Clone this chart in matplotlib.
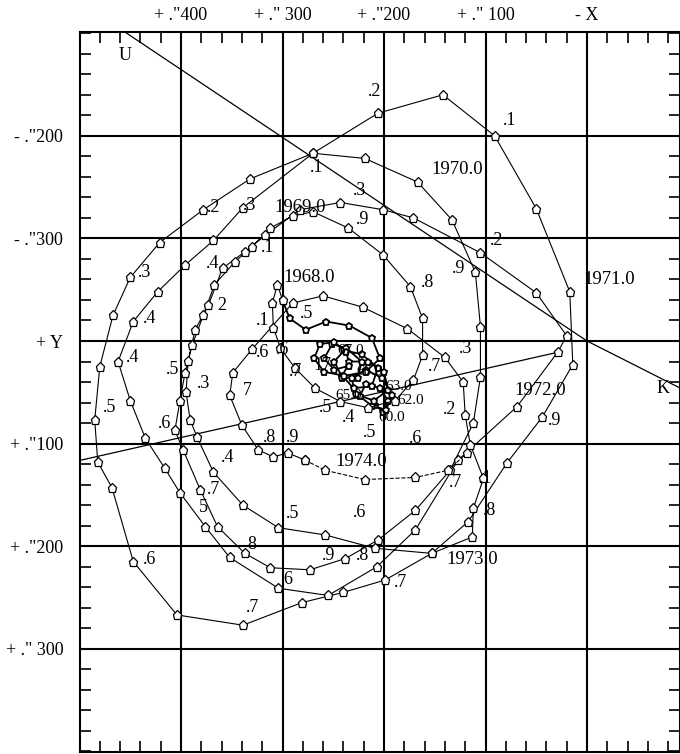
import matplotlib
matplotlib.use('Agg')
import matplotlib.pyplot as plt
from matplotlib.ticker import MultipleLocator

plt.rcParams['font.family'] = ['Liberation Serif', 'DejaVu Serif']

# pole path, units of 0."001; x grows to the left, y grows downward
# 1960 - 1967, the small tangle in the middle
x_6067 = [209, 201, 196, 204, 218, 224, 212, 198, 192, 202, 218, 232, 228, 210, 196, 200,
          216, 234, 241, 230, 212, 206, 222, 239, 249, 241, 226, 222, 237, 251, 259, 249,
          234, 237, 249, 263, 269, 259, 239, 218, 204, 212, 234, 257, 277, 293, 300]
y_6067 = [62, 69, 58, 46, 42, 54, 63, 67, 53, 36, 28, 36, 52, 58, 48, 30,
          20, 20, 34, 46, 44, 26, 13, 9, 20, 36, 36, 20, 7, 3, 17, 28,
          24, 11, 1, 3, 17, 30, 34, 30, 17, -3, -15, -19, -11, -22, -40]

x_1968 = [305, 310, 309, 302, 288, 268, 243, 216, 189, 171, 162, 162, 174, 201, 235, 270]
y_1968 = [-55, -37, -13, 7, 26, 46, 59, 65, 58, 38, 14, -22, -53, -84, -110, -126]

x_1969 = [290, 312, 330, 347, 367, 378, 389, 396, 401, 406, 398, 381, 364, 337, 312, 273,
          238, 206, 169, 135, 112, 105, 105, 110, 133]
y_1969 = [-122, -110, -92, -77, -55, -25, 4, 31, 58, 87, 106, 145, 181, 207, 221, 223,
          212, 194, 165, 126, 80, 35, -14, -67, -118]

x_1970 = [167, 219, 270, 332, 378, 421, 450, 467, 480, 485, 482, 468, 447, 404, 339, 281,
          240, 199, 153, 117, 79, 44, 14]
y_1970 = [-155, -178, -183, -158, -128, -96, -62, -25, 25, 77, 118, 143, 215, 267, 277, 255,
          245, 233, 207, 176, 119, 74, 23]

x_1971 = [17, 50, 91, 142, 206, 270, 339, 368, 396, 423, 447, 462, 450, 435, 416, 401,
          376, 352, 304, 255, 207, 169, 127]
y_1971 = [-48, -129, -200, -240, -222, -183, -130, -98, -74, -48, -19, 20, 58, 95, 124, 148,
          181, 211, 241, 248, 220, 184, 116]

x_1972 = [69, 29, 20, 50, 105, 171, 201, 243, 283, 317, 337, 359, 373, 386, 393, 395,
          391, 384, 368, 339, 304, 258, 209]
y_1972 = [64, 11, -5, -47, -86, -120, -128, -135, -128, -103, -87, -71, -35, -11, 19, 50,
          77, 94, 128, 160, 182, 189, 202]

x_1973 = [153, 113, 112, 102, 115, 120, 122, 140, 177, 221, 260, 290, 330, 349, 352, 340,
          324, 309, 295, 278]
y_1973 = [207, 191, 163, 134, 101, 72, 40, 16, -12, -33, -44, -37, 8, 31, 53, 82,
          106, 113, 109, 116]

x_1974 = [278, 258, 219, 169, 137, 118]
y_1974 = [116, 126, 135, 133, 126, 109]

# reference lines
uk_x = [455, 0, -92]
uk_y = [-301, 0, 46]
chord_x = [498, 29]
chord_y = [116, 11]

# year labels
year_text = ['1968.0', '1969.0', '1970.0', '1971.0', '1972.0', '1973.0', '1974.0']
year_x = [274, 283, 128, -22, 46, 113, 222]
year_y = [-62, -130, -167, -60, 48, 213, 117]

# tenth-of-year labels
tenth_text = ['.2', '.1', '.1', '.3', '.9', '.2', '.3', '.3', '.4', '.1', '.9', '.2', '.8',
              '.4', '2', '.1', '.5', '.4', '.5', '.3', '.6', '7', '.5', '.6', '.3', '.7',
              '.2', '.9', '.4', '.8', '.9', '.7', '5', '.6', '.1', '.7', '.8', '.5', '.6',
              '.9', '.8', '6', '8', '.6', '.7', '.7', '.5', '.4', '.5', '.6', '.7', '17']
tenth_x = [209, 76, 266, 224, 221, 368, 332, 436, 369, 315, 127, 89, 157,
           431, 360, 320, 276, 448, 408, 378, 320, 335, 470, 416, 120, 150,
           135, 32, 354, 313, 290, 368, 378, 169, 100, 130, 96, 290, 224,
           255, 221, 295, 330, 431, 330, 184, 258, 235, 214, 300, 287, 261]
tenth_y = [-243, -215, -169, -147, -118, -130, -132, -67, -76, -91, -71, -98, -57,
           -22, -35, -20, -27, 16, 28, 41, 11, 48, 65, 80, 7, 25,
           67, 77, 114, 94, 94, 145, 162, 95, 134, 138, 165, 168, 167,
           209, 209, 232, 198, 213, 260, 235, 65, 75, 89, 8, 30, 24]

# labels inside the 1960-1967 tangle
core_text = ['67.0', '66.0', '65.0', '63.0', '62.0', '60.0']
core_x = [233, 214, 235, 186, 174, 192]
core_y = [9, 30, 53, 44, 58, 75]

fig = plt.figure(figsize=(6.8, 7.54), dpi=100)
ax = fig.add_axes([80 / 680, 2 / 754, 600 / 680, 720 / 754])

mk = dict(color='black', lw=0.8, marker='p', ms=6.5, mfc='white', mec='black', mew=0.9)

ax.plot(x_6067, y_6067, color='black', lw=1.3, marker='p', ms=4.5, mfc='white',
        mec='black', mew=1.3, zorder=3)
path_x = x_6067[-1:] + x_1968 + x_1969 + x_1970 + x_1971 + x_1972 + x_1973
path_y = y_6067[-1:] + y_1968 + y_1969 + y_1970 + y_1971 + y_1972 + y_1973
ax.plot(path_x, path_y, zorder=4, **mk)
ax.plot(x_1974, y_1974, ls='--', zorder=4, **mk)

ax.plot(uk_x, uk_y, color='black', lw=0.9, zorder=2)
ax.plot(chord_x, chord_y, color='black', lw=0.9, zorder=2)
ax.text(455, -278, 'U', fontsize=13, ha='center', va='center')
ax.text(-75, 46, 'K', fontsize=13, ha='center', va='center')

for t, x, y in zip(year_text, year_x, year_y):
    ax.text(x, y, t, fontsize=13.5, ha='center', va='center', zorder=5)
for t, x, y in zip(tenth_text, tenth_x, tenth_y):
    ax.text(x, y, t, fontsize=13, ha='center', va='center', zorder=5)
for t, x, y in zip(core_text, core_x, core_y):
    ax.text(x, y, t, fontsize=11, ha='center', va='center', zorder=5)

ax.set_xlim(499.5, -91.6)
ax.set_ylim(400.6, -301.2)

ax.xaxis.tick_top()
ax.set_xticks([400, 300, 200, 100, 0])
ax.set_xticklabels(['+ ."400', '+ ." 300', '+ ."200', '+ ." 100', '- X'], fontsize=13)
ax.set_yticks([-200, -100, 0, 100, 200, 300])
ax.set_yticklabels(['- ."200', '- ."300', '+ Y', '+ ."100', '+ ."200', '+ ." 300'], fontsize=13)
ax.xaxis.set_minor_locator(MultipleLocator(20))
ax.yaxis.set_minor_locator(MultipleLocator(20))
ax.tick_params(which='major', length=0, pad=6)
ax.tick_params(axis='y', which='major', pad=12)
ax.tick_params(which='minor', direction='in', length=8, width=1.2,
               top=True, bottom=True, left=True, right=True)
ax.grid(which='major', color='black', lw=1.5, zorder=1)
for s in ax.spines.values():
    s.set_linewidth(1.5)

fig.savefig('out.png', dpi=100)
